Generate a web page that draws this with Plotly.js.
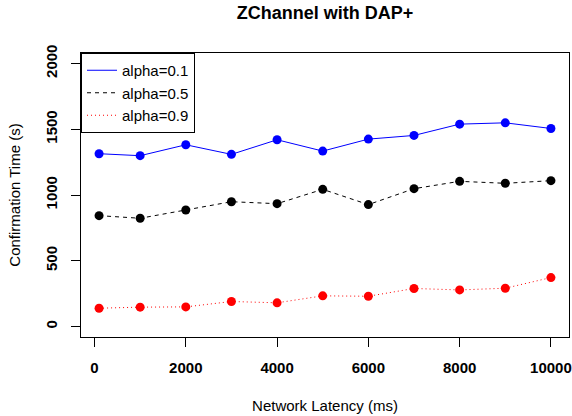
<!DOCTYPE html>
<html>
<head>
<meta charset="utf-8">
<script src="https://cdn.plot.ly/plotly-3.0.1.min.js"></script>
<style>html,body{margin:0;padding:0;background:#fff}#chart{width:572px;height:416px}</style>
</head>
<body>
<div id="chart"></div>
<script>
var latency = [100, 1000, 2000, 3000, 4000, 5000, 6000, 7000, 8000, 9000, 10000];
var alpha01 = [1314, 1299, 1382, 1309, 1420, 1334, 1425, 1453, 1539, 1549, 1506];
var alpha05 = [843, 823, 886, 949, 934, 1043, 927, 1048, 1104, 1089, 1109];
var alpha09 = [139, 147, 149, 190, 180, 233, 230, 289, 278, 291, 372];
var seriesNames = ['alpha=0.1', 'alpha=0.5', 'alpha=0.9'];
var xTicks = [0, 2000, 4000, 6000, 8000, 10000];
var yTicks = [0, 500, 1000, 1500, 2000];

var colors = ['#0000ff', '#000000', '#ff0000'];
var dashes = ['solid', '4px,4px', '1px,3px'];
var ys = [alpha01, alpha05, alpha09];
var traces = [];
for (var i = 0; i < ys.length; i++) {
  traces.push({x: latency, y: ys[i], mode: 'lines', name: seriesNames[i],
    line: {color: colors[i], width: 1, dash: dashes[i]}, hoverinfo: 'skip'});
}
for (var i = 0; i < ys.length; i++) {
  traces.push({x: latency, y: ys[i], mode: 'markers', showlegend: false,
    marker: {color: colors[i], size: 9}, hoverinfo: 'skip'});
}
var font = {family: 'Liberation Sans, Arial, sans-serif', color: '#000'};
var layout = {
  width: 572, height: 416,
  margin: {l: 81, r: 3, t: 53, b: 79},
  paper_bgcolor: '#fff', plot_bgcolor: '#fff',
  font: {family: font.family, size: 15, color: '#000'},
  title: {text: 'ZChannel with DAP+', font: {family: font.family, size: 18, weight: 'bold', color: '#000'},
    x: 0.5, xref: 'paper', xanchor: 'center', y: 1 - 13/416, yref: 'container', yanchor: 'middle'},
  xaxis: {range: [-296, 10396], tickvals: xTicks, ticktext: xTicks.map(String),
    showgrid: false, zeroline: false, showline: true, mirror: true, linecolor: '#000', linewidth: 1,
    ticks: 'outside', ticklen: 9, tickcolor: '#000', tickwidth: 1, ticklabelstandoff: 8,
    tickfont: {family: font.family, size: 15, weight: 'bold', color: '#000'},
    title: {text: 'Network Latency (ms)', font: {family: font.family, size: 15, color: '#000'}, standoff: 25}},
  yaxis: {range: [-80, 2080], tickvals: yTicks, ticktext: yTicks.map(String), tickangle: -90,
    showgrid: false, zeroline: false, showline: true, mirror: true, linecolor: '#000', linewidth: 1,
    ticks: 'outside', ticklen: 9, tickcolor: '#000', tickwidth: 1, ticklabelstandoff: 8,
    tickfont: {family: font.family, size: 15, weight: 'bold', color: '#000'},
    title: {text: 'Confirmation Time (s)', font: {family: font.family, size: 15, color: '#000'}, standoff: 18}},
  legend: {x: 0, y: 1, xanchor: 'left', yanchor: 'top', bgcolor: '#fff', bordercolor: '#000', borderwidth: 1,
    font: {family: font.family, size: 15, color: '#000'}, tracegroupgap: 0, entrywidth: 120},
  showlegend: true
};
Plotly.newPlot('chart', traces, layout, {staticPlot: true, displayModeBar: false});
</script>
</body>
</html>
